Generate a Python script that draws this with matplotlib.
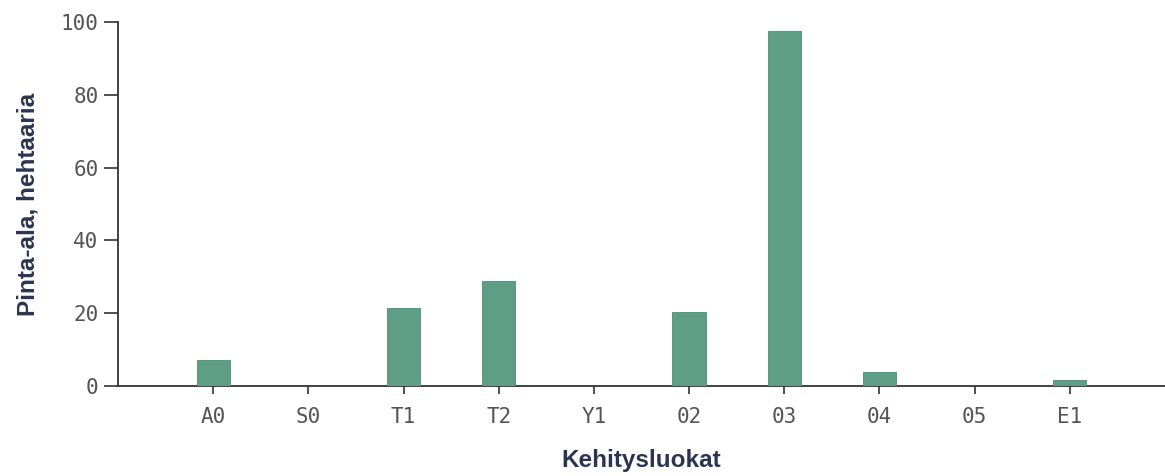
import matplotlib
matplotlib.use("Agg")
import matplotlib.pyplot as plt
import numpy as np

categories = ["A0", "S0", "T1", "T2", "Y1", "02", "03", "04", "05", "E1"]
values = [7.1, 0, 21.3, 28.9, 0, 20.3, 97.5, 3.9, 0, 1.7]
yticks = [0, 20, 40, 60, 80, 100]

fig = plt.figure(figsize=(11.65, 4.76), dpi=100)
ax = fig.add_axes([118/1165, 1 - 386/476, 1 - 118/1165, (386 - 22)/476])

x = np.arange(len(categories))
ax.bar(x, values, width=0.35, color="#5f9e86", edgecolor="#4f8a72", linewidth=0.6, zorder=3)

ax.set_xlim(-1, 10)
ax.set_ylim(0, 100)
ax.set_xticks(x)
ax.set_xticklabels(categories)
ax.set_yticks(yticks)

for s in ["top", "right"]:
    ax.spines[s].set_visible(False)
for s in ["left", "bottom"]:
    ax.spines[s].set_color("#333333")
    ax.spines[s].set_linewidth(1.3)

ax.tick_params(axis="both", direction="out", width=1.2, color="#333333",
               labelcolor="#555555", labelsize=15)
for lab in ax.get_xticklabels() + ax.get_yticklabels():
    lab.set_family("DejaVu Sans Mono")
ax.tick_params(axis="x", length=6, pad=9)
ax.tick_params(axis="y", length=10, pad=4)

ax.set_xlabel("Kehitysluokat", fontsize=17.5, fontweight="bold", color="#2b3550", labelpad=16,
              family="Liberation Sans")
ax.set_ylabel("Pinta-ala, hehtaaria", fontsize=17.5, fontweight="bold", color="#2b3550", labelpad=15,
              family="Liberation Sans")

fig.savefig("out.png", dpi=100)
